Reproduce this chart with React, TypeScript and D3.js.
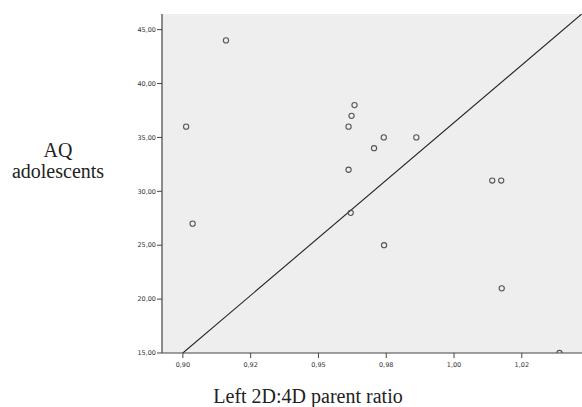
import React from "react";
import * as d3 from "d3";

const xValues = [0.9159, 0.9012, 0.9036, 0.9633, 0.9622, 0.9611, 0.9741, 0.9861, 0.9705, 0.9611, 1.0141, 1.0174, 0.9619, 0.9742, 1.0176, 1.0389];
const yValues = [44, 36, 27, 38, 37, 36, 35, 35, 34, 32, 31, 31, 28, 25, 21, 15];
const xTicks = [0.9, 0.925, 0.95, 0.975, 1.0, 1.025];
const xTickLabels = ["0,90", "0,92", "0,95", "0,98", "1,00", "1,02"];
const yTicks = [15, 20, 25, 30, 35, 40, 45];
const yTickLabels = ["15,00", "20,00", "25,00", "30,00", "35,00", "40,00", "45,00"];
const fitStart = [0.9, 15];
const fitSlope = 213.8;
const xTitle = "Left 2D:4D parent ratio";
const yTitleLines = ["AQ", "adolescents"];

const W = 582, H = 407;
const plot = { left: 162, right: 582, top: 14, bottom: 353 };

export default function App() {
  const x = d3.scaleLinear().domain([0.8923, 1.0472]).range([plot.left, plot.right]);
  const y = d3.scaleLinear().domain([15, 46.45]).range([plot.bottom, plot.top]);
  const xEnd = 1.0472;
  const line = d3.line<number[]>().x(d => x(d[0])).y(d => y(d[1]));
  const fitPts = [fitStart, [xEnd, fitStart[1] + fitSlope * (xEnd - fitStart[0])]];
  const tickFont = "DejaVu Sans, sans-serif";
  const titleFont = "Liberation Serif, serif";
  return (
    <svg width={W} height={H} style={{ position: "absolute", left: 0, top: 0, background: "#fff" }}>
      <defs>
        <clipPath id="pc">
          <rect x={plot.left} y={plot.top} width={plot.right - plot.left} height={plot.bottom - plot.top} />
        </clipPath>
      </defs>
      <rect x={plot.left} y={plot.top} width={plot.right - plot.left} height={plot.bottom - plot.top} fill="#eeeeee" />
      <g clipPath="url(#pc)">
        <path d={line(fitPts as number[][]) || ""} stroke="#222" strokeWidth={1.1} fill="none" />
        {xValues.map((v, i) => (
          <circle key={i} cx={x(v)} cy={y(yValues[i])} r={2.6} fill="none" stroke="#555" strokeWidth={1.1} />
        ))}
      </g>
      <line x1={plot.left} x2={plot.left} y1={plot.top} y2={plot.bottom} stroke="#444" strokeWidth={1.2} />
      <line x1={plot.left} x2={plot.right} y1={plot.bottom} y2={plot.bottom} stroke="#444" strokeWidth={1.2} />
      {yTicks.map((t, i) => (
        <g key={t}>
          <line x1={plot.left - 5} x2={plot.left} y1={y(t)} y2={y(t)} stroke="#444" strokeWidth={1} />
          <text x={plot.left - 6} y={y(t)} dy="0.35em" textAnchor="end" fontSize={6.5} fill="#333" fontFamily={tickFont}>{yTickLabels[i]}</text>
        </g>
      ))}
      {xTicks.map((t, i) => (
        <g key={t}>
          <line x1={x(t)} x2={x(t)} y1={plot.bottom} y2={plot.bottom + 5} stroke="#444" strokeWidth={1} />
          <text x={x(t)} y={plot.bottom + 14} textAnchor="middle" fontSize={6.5} fill="#333" fontFamily={tickFont}>{xTickLabels[i]}</text>
        </g>
      ))}
      <text x={308} y={403} textAnchor="middle" fontSize={20} fill="#222" fontFamily={titleFont}>{xTitle}</text>
      {yTitleLines.map((s, i) => (
        <text key={s} x={58} y={157 + i * 21} textAnchor="middle" fontSize={20} fill="#222" fontFamily={titleFont}>{s}</text>
      ))}
    </svg>
  );
}
